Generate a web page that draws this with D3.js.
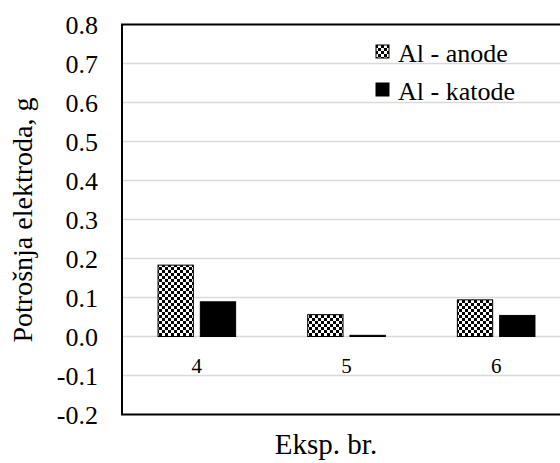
<!DOCTYPE html>
<html>
<head>
<meta charset="utf-8">
<script src="https://cdn.jsdelivr.net/npm/d3@7"></script>
</head>
<body style="margin:0">
<div id="wrap" style="position:relative;width:560px;height:463px;overflow:hidden">
<svg id="chart" width="560" height="463" style="position:absolute;left:0;top:0"></svg>
</div>
<script>
// data
var experiments = ["4", "5", "6"];
var seriesNames = ["Al - anode", "Al - katode"];
var anode = [0.183, 0.056, 0.094];
var katode = [0.089, 0.003, 0.054];
var yTicks = [-0.2, -0.1, 0.0, 0.1, 0.2, 0.3, 0.4, 0.5, 0.6, 0.7, 0.8];
var yTitle = "Potrošnja elektroda, g";
var xTitle = "Eksp. br.";

var serif = "Liberation Serif";

var svg = d3.select("#chart");
var margin = {top: 24.5, left: 122, bottom: 48.5};
var plotRight = 571; // plot runs past the right edge of the picture
var height = +svg.attr("height");

var x0 = d3.scaleBand()
  .domain(experiments)
  .range([margin.left, plotRight]);

var x1 = d3.scaleBand()
  .domain(seriesNames)
  .range([0, x0.bandwidth()])
  .paddingInner(0.165)
  .paddingOuter(0.852);

var y = d3.scaleLinear()
  .domain([-0.2, 0.8])
  .range([height - margin.bottom, margin.top]);

// checkerboard squares (3px grid) inside a box
function checker(g, bx, by, bw, bh) {
  var s = 3, sq = [];
  for (var cy = Math.floor(by / s) * s; cy < by + bh; cy += s) {
    for (var cx = Math.floor(bx / s) * s; cx < bx + bw; cx += s) {
      if ((cx / s + cy / s) % 2 !== 0) continue;
      var xa = Math.max(cx, bx), xb = Math.min(cx + s, bx + bw);
      var ya = Math.max(cy, by), yb = Math.min(cy + s, by + bh);
      if (xb > xa && yb > ya) sq.push([xa, ya, xb - xa, yb - ya]);
    }
  }
  g.append("rect").attr("x", bx).attr("y", by).attr("width", bw).attr("height", bh).attr("fill", "#fff");
  g.selectAll(null).data(sq).enter().append("rect")
    .attr("x", function(d) { return d[0]; })
    .attr("y", function(d) { return d[1]; })
    .attr("width", function(d) { return d[2]; })
    .attr("height", function(d) { return d[3]; })
    .attr("fill", "#000");
}

// gridlines
svg.append("g")
  .selectAll("line")
  .data(yTicks.filter(function(t) { return t > -0.2 && t < 0.8; }))
  .enter().append("line")
    .attr("x1", margin.left)
    .attr("x2", plotRight)
    .attr("y1", function(d) { return y(d); })
    .attr("y2", function(d) { return y(d); })
    .attr("stroke", "#d9d9d9")
    .attr("stroke-width", 1.5);

// y tick labels
var fmt = d3.format(".1f");
svg.selectAll(".ylab")
  .data(yTicks)
  .enter().append("text")
    .attr("class", "ylab")
    .attr("x", margin.left - 24)
    .attr("y", function(d) { return y(d) + 9; })
    .attr("text-anchor", "end")
    .attr("font-family", serif)
    .attr("font-size", 26)
    .text(function(d) { return fmt(d).replace("\u2212", "-"); });

// bars
var bars = [];
experiments.forEach(function(e, i) {
  [anode[i], katode[i]].forEach(function(v, k) {
    bars.push({exp: e, key: seriesNames[k], value: v, k: k});
  });
});

bars.forEach(function(d) {
  var bx = x0(d.exp) + x1(d.key), bw = x1.bandwidth();
  var by = y(Math.max(0, d.value)), bh = Math.abs(y(d.value) - y(0));
  var g = svg.append("g");
  if (d.k === 0) checker(g, bx, by, bw, bh);
  g.append("rect")
    .attr("x", bx).attr("y", by).attr("width", bw).attr("height", bh)
    .attr("fill", d.k === 0 ? "none" : "#000")
    .attr("stroke", "#000")
    .attr("stroke-width", 1);
});

// x category labels (sit between 0.0 and -0.1)
svg.selectAll(".xlab")
  .data(experiments)
  .enter().append("text")
    .attr("class", "xlab")
    .attr("x", function(d) { return x0(d) + x0.bandwidth() / 2; })
    .attr("y", 373)
    .attr("text-anchor", "middle")
    .attr("font-family", serif)
    .attr("font-size", 21)
    .text(function(d) { return d; });

// frame (left, top, bottom)
svg.append("path")
  .attr("d", "M" + plotRight + "," + y(0.8) + "H" + margin.left + "V" + y(-0.2) + "H" + plotRight)
  .attr("stroke", "#000")
  .attr("stroke-width", 2)
  .attr("fill", "none");

// x axis title
svg.append("text")
  .attr("x", 326)
  .attr("y", 454)
  .attr("text-anchor", "middle")
  .attr("font-family", serif)
  .attr("font-size", 29)
  .text(xTitle);

// legend
seriesNames.forEach(function(name, i) {
  var g = svg.append("g");
  var ly = 45 + i * 38;
  if (i === 0) checker(g, 376, ly, 13, 13);
  g.append("rect")
    .attr("x", 376).attr("y", ly).attr("width", 13).attr("height", 13)
    .attr("fill", i === 0 ? "none" : "#000")
    .attr("stroke", "#000")
    .attr("stroke-width", 1);
  g.append("text")
    .attr("x", 398)
    .attr("y", ly + 17)
    .attr("font-family", serif)
    .attr("font-size", 26)
    .text(name);
});

// y axis title as rotated html text, centred on the plot
var midY = y(0.3);
d3.select("#wrap").append("div")
  .style("position", "absolute")
  .style("left", (22.6 - 200) + "px")
  .style("top", (midY - 14) + "px")
  .style("width", "400px")
  .style("height", "28px")
  .style("line-height", "28px")
  .style("text-align", "center")
  .style("font-family", serif)
  .style("font-size", "28px")
  .style("color", "#000")
  .style("white-space", "nowrap")
  .style("transform", "rotate(-90deg)")
  .text(yTitle);
</script>
</body>
</html>
